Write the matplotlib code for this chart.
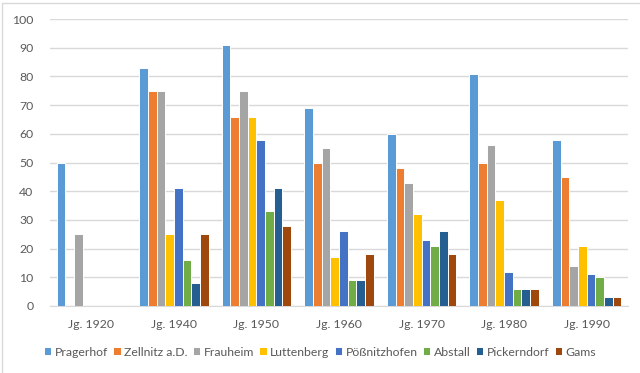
import numpy as np
import matplotlib
matplotlib.use("Agg")
import matplotlib.pyplot as plt
from matplotlib.patches import Rectangle

plt.rcParams['font.family'] = ['Lato', 'DejaVu Sans']

jahrgaenge = ["Jg. 1920", "Jg. 1940", "Jg. 1950", "Jg. 1960", "Jg. 1970", "Jg. 1980", "Jg. 1990"]
orte = ["Pragerhof", "Zellnitz a.D.", "Frauheim", "Luttenberg", "Pößnitzhofen", "Abstall", "Pickerndorf", "Gams"]

pragerhof = [50, 83, 91, 69, 60, 81, 58]
zellnitz = [0, 75, 66, 50, 48, 50, 45]
frauheim = [25, 75, 75, 55, 43, 56, 14]
luttenberg = [0, 25, 66, 17, 32, 37, 21]
poessnitzhofen = [0, 41, 58, 26, 23, 12, 11]
abstall = [0, 16, 33, 9, 21, 6, 10]
pickerndorf = [0, 8, 41, 9, 26, 6, 3]
gams = [0, 25, 28, 18, 18, 6, 3]

werte = [pragerhof, zellnitz, frauheim, luttenberg, poessnitzhofen, abstall, pickerndorf, gams]
farben = ["#5B9BD5", "#ED7D31", "#A5A5A5", "#FFC000", "#4472C4", "#70AD47", "#255E91", "#9E480E"]

txt = "#595959"
grid = "#D9D9D9"

fig = plt.figure(figsize=(6.4, 3.73), dpi=100)
ax = fig.add_axes([50 / 640, 1 - 306 / 373, 578 / 640, 287 / 373])

x = np.arange(len(jahrgaenge))
w = 0.105
for i, (ort, vals, c) in enumerate(zip(orte, werte, farben)):
    ax.bar(x + (i - 3.5) * w, vals, width=w, color=c, edgecolor="white",
           linewidth=0.7, label=ort, zorder=3)

ax.set_xlim(-0.5, len(jahrgaenge) - 0.5)
ax.set_ylim(0, 100)
ax.set_yticks(range(0, 101, 10))
ax.set_xticks(x)
ax.set_xticklabels(jahrgaenge)
ax.tick_params(length=0, labelsize=8.8, labelcolor=txt)
ax.tick_params(axis="x", pad=9)
ax.tick_params(axis="y", pad=12)
ax.yaxis.grid(True, color=grid, linewidth=1, zorder=0)
for s in ["top", "right", "left"]:
    ax.spines[s].set_visible(False)
ax.spines["bottom"].set_color(grid)

leg = fig.legend(loc="center", bbox_to_anchor=(0.5, 1 - 352 / 373), ncol=8,
                 frameon=False, fontsize=8.8, handlelength=0.6, handleheight=0.6,
                 handletextpad=0.3, columnspacing=0.42, labelcolor=txt)

# Rahmen
fig.patches.append(Rectangle((2 / 640, -0.2), 1.2, 1.2 - 3 / 373, transform=fig.transFigure,
                             fill=False, edgecolor=grid, linewidth=1))

fig.savefig("out.png", dpi=100)
